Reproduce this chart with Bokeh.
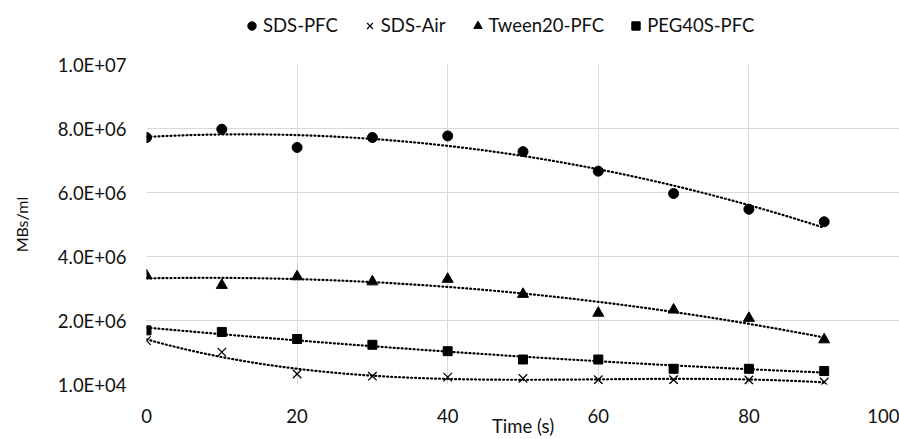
import numpy as np
from bokeh.plotting import figure
from bokeh.models import Range1d, FixedTicker, Legend, LegendItem
from bokeh.layouts import column
from bokeh.embed import file_html
from bokeh.resources import INLINE

time_s = [0, 10, 20, 30, 40, 50, 60, 70, 80, 90]
sds_pfc = [7.72e6, 7.98e6, 7.41e6, 7.72e6, 7.77e6, 7.28e6, 6.67e6, 5.97e6, 5.48e6, 5.09e6]
sds_air = [1.38e6, 1.02e6, 0.34e6, 0.27e6, 0.24e6, 0.20e6, 0.16e6, 0.16e6, 0.15e6, 0.09e6]
tween20_pfc = [3.41e6, 3.11e6, 3.38e6, 3.22e6, 3.30e6, 2.83e6, 2.24e6, 2.34e6, 2.08e6, 1.41e6]
peg40s_pfc = [1.70e6, 1.65e6, 1.43e6, 1.25e6, 1.05e6, 0.79e6, 0.79e6, 0.50e6, 0.50e6, 0.43e6]

y_ticks = [1e4, 2e6, 4e6, 6e6, 8e6, 1e7]
y_tick_labels = ["1.0E+04", "2.0E+06", "4.0E+06", "6.0E+06", "8.0E+06", "1.0E+07"]
x_ticks = [0, 20, 40, 60, 80, 100]

FONT = "Lato"
GRID = "#d9d9d9"
TXT = "#111111"
W = 899
LEFT = 146
LG_H = 36

p = figure(width=W, height=439 - LG_H, output_backend="svg", toolbar_location=None,
           x_range=Range1d(0, 100), y_range=Range1d(1e4, 1e7),
           min_border_left=LEFT, min_border_right=0, min_border_top=28, min_border_bottom=0)
p.outline_line_color = None
p.background_fill_color = "white"

p.xgrid.grid_line_color = GRID
p.ygrid.grid_line_color = GRID
p.xaxis.ticker = FixedTicker(ticks=x_ticks)
p.yaxis.ticker = FixedTicker(ticks=y_ticks)
p.yaxis.major_label_overrides = {t: l for t, l in zip(y_ticks, y_tick_labels)}

for ax in (p.xaxis[0], p.yaxis[0]):
    ax.axis_line_color = None
    ax.major_tick_line_color = None
    ax.minor_tick_line_color = None
    ax.major_tick_out = 0
    ax.major_tick_in = 0
    ax.minor_tick_out = 0
    ax.major_label_text_font = FONT
    ax.major_label_text_font_size = "18.5px"
    ax.major_label_text_color = TXT
    ax.axis_label_text_font = FONT
    ax.axis_label_text_font_style = "normal"
    ax.axis_label_text_color = TXT

p.xaxis.axis_label = "Time (s)"
p.yaxis.axis_label = "MBs/ml"
p.xaxis.axis_label_text_font_size = "18.5px"
p.yaxis.axis_label_text_font_size = "16px"
p.xaxis.major_label_standoff = 24
p.xaxis.axis_label_standoff = -11
p.yaxis.major_label_standoff = 20
p.yaxis.axis_label_standoff = 24

xs = np.array(time_s, dtype=float)
xfit = np.linspace(min(time_s), max(time_s), 200)

series = [
    ("SDS-PFC", sds_pfc, "circle", 10, 2),
    ("SDS-Air", sds_air, "x", 12, 3),
    ("Tween20-PFC", tween20_pfc, "triangle", 11, 2),
    ("PEG40S-PFC", peg40s_pfc, "square", 9, 2),
]

for name, ys, marker, size, deg in series:
    coef = np.polyfit(xs, np.array(ys), deg)
    p.line(xfit, np.polyval(coef, xfit), line_color="black", line_width=2.2,
           line_dash="1 3", line_cap="round")
    p.scatter(time_s, ys, marker=marker, size=size, fill_color="black",
              line_color="black", line_width=1.3 if marker == "x" else 1)

# legend strip above the plot
lg = figure(width=W, height=LG_H, output_backend="svg", toolbar_location=None,
            x_range=Range1d(0, 1), y_range=Range1d(0, 1),
            x_axis_location=None, y_axis_location=None,
            min_border_left=LEFT, min_border_right=0,
            min_border_top=0, min_border_bottom=0)
lg.outline_line_color = None
lg.xgrid.visible = False
lg.ygrid.visible = False
items = []
for name, ys, marker, size, deg in series:
    r = lg.scatter([-5], [-5], marker=marker, size=size, fill_color="black",
                   line_color="black", line_width=1.2 if marker == "x" else 1)
    items.append(LegendItem(label=name, renderers=[r]))
legend = Legend(items=items, orientation="horizontal", location=(95, 0),
                label_text_font=FONT, label_text_font_size="18.5px",
                label_text_color=TXT, border_line_color=None,
                background_fill_alpha=0, padding=0, margin=0, spacing=21,
                glyph_width=21, glyph_height=21, label_standoff=1, label_height=21)
lg.add_layout(legend, "center")

layout = column(lg, p, spacing=0)
open("out.html", "w").write(file_html(layout, INLINE))
